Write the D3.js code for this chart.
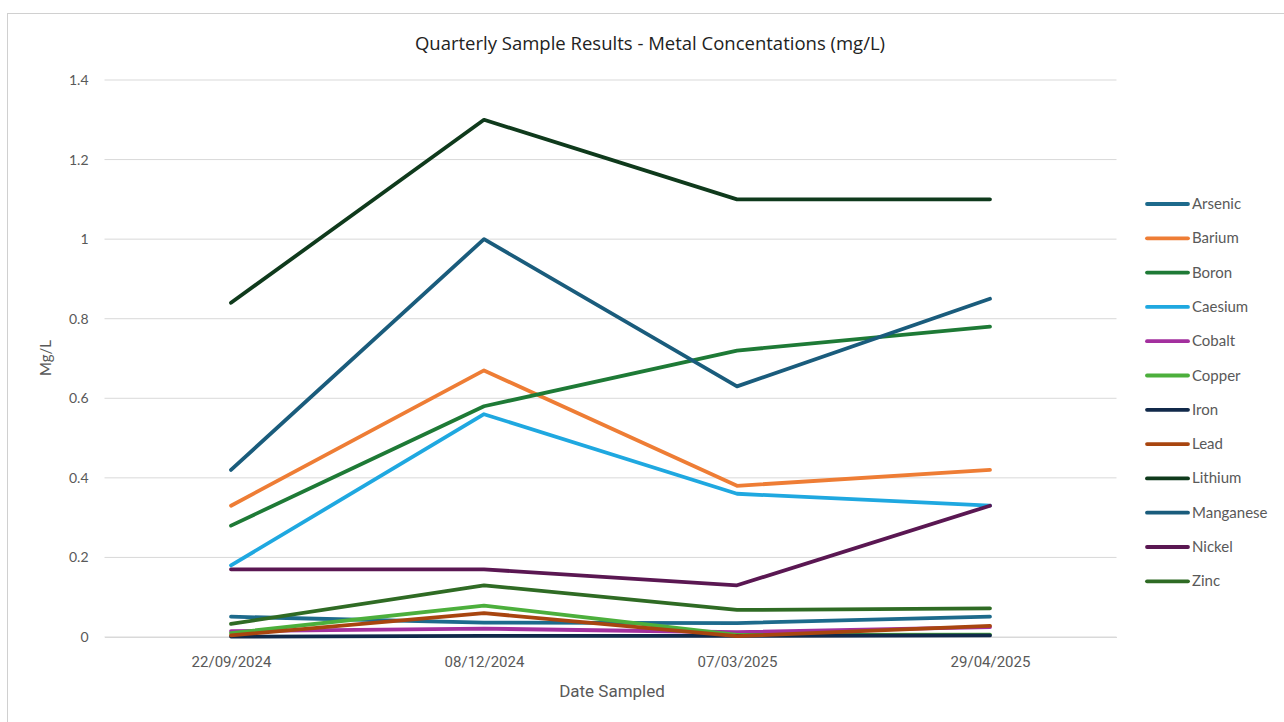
<!DOCTYPE html>
<html>
<head>
<meta charset="utf-8">
<script src="https://cdn.jsdelivr.net/npm/d3@7"></script>
<style>
  html, body { margin: 0; padding: 0; background: #ffffff; }
  svg { display: block; }
</style>
</head>
<body>
<div id="chart"></div>
<script>
const dates = ["22/09/2024", "08/12/2024", "07/03/2025", "29/04/2025"];
const metals = ["Arsenic", "Barium", "Boron", "Caesium", "Cobalt", "Copper", "Iron", "Lead", "Lithium", "Manganese", "Nickel", "Zinc"];
const colors = ["#1d6a8c", "#ee7d35", "#1e7a36", "#1fa8e0", "#a3309e", "#4caf3c", "#11294a", "#a8450f", "#0f3a1c", "#1a5c7c", "#5a1752", "#2f6b24"];
const arsenic   = [0.051, 0.036, 0.035, 0.051];
const barium    = [0.33, 0.67, 0.38, 0.42];
const boron     = [0.28, 0.58, 0.72, 0.78];
const caesium   = [0.18, 0.56, 0.36, 0.33];
const cobalt    = [0.015, 0.021, 0.012, 0.025];
const copper    = [0.01, 0.079, 0.005, 0.006];
const iron      = [0.001, 0.003, 0.003, 0.004];
const lead      = [0.004, 0.06, 0.002, 0.028];
const lithium   = [0.84, 1.3, 1.1, 1.1];
const manganese = [0.42, 1.0, 0.63, 0.85];
const nickel    = [0.17, 0.17, 0.13, 0.33];
const zinc      = [0.033, 0.13, 0.068, 0.072];
const yTicks = [0, 0.2, 0.4, 0.6, 0.8, 1, 1.2, 1.4];
const seriesValues = [arsenic, barium, boron, caesium, cobalt, copper, iron, lead, lithium, manganese, nickel, zinc];

const W = 1284, H = 722;
const margin = { left: 104.5, right: 1116.5, top: 80, bottom: 637 };

const svg = d3.select("#chart").append("svg").attr("width", W).attr("height", H);

svg.append("rect").attr("x", 7.5).attr("y", 13.5).attr("width", W + 10).attr("height", H + 10)
  .attr("fill", "#fff").attr("stroke", "#d0d0d0").attr("stroke-width", 1);

const x = d3.scalePoint().domain(dates).range([margin.left, margin.right]).padding(0.5);
const y = d3.scaleLinear().domain([0, 1.4]).range([margin.bottom, margin.top]);

// gridlines
svg.append("g").selectAll("line").data(yTicks).join("line")
  .attr("x1", margin.left).attr("x2", margin.right)
  .attr("y1", d => y(d)).attr("y2", d => y(d))
  .attr("stroke", "#d9d9d9").attr("stroke-width", 1);

// y axis
const yAxis = svg.append("g").attr("transform", `translate(${margin.left},0)`)
  .call(d3.axisLeft(y).tickValues(yTicks).tickSize(0).tickPadding(16).tickFormat(d => d3.format("")(d)));
yAxis.select(".domain").remove();
yAxis.selectAll("text").attr("fill", "#595959").style("font-family", "Lato, 'Open Sans', sans-serif").style("font-size", "14px");

// x axis
const xAxis = svg.append("g").attr("transform", `translate(0,${margin.bottom})`)
  .call(d3.axisBottom(x).tickSize(0).tickPadding(19));
xAxis.select(".domain").attr("stroke", "#d9d9d9");
xAxis.selectAll("text").attr("fill", "#595959").style("font-family", "'Liberation Sans Narrow', 'Roboto', sans-serif").style("font-size", "15px");

// lines
const line = d3.line().x((d, i) => x(dates[i])).y(d => y(d));
svg.append("g").selectAll("path").data(seriesValues).join("path")
  .attr("d", d => line(d))
  .attr("fill", "none")
  .attr("stroke", (d, i) => colors[i])
  .attr("stroke-width", 3.8)
  .attr("stroke-linejoin", "round")
  .attr("stroke-linecap", "round");

// title
svg.append("text").attr("x", 650).attr("y", 50).attr("text-anchor", "middle")
  .style("font-family", "'Open Sans', sans-serif").style("font-size", "18.5px").attr("fill", "#222")
  .text("Quarterly Sample Results - Metal Concentations (mg/L)");

// axis titles
svg.append("text").attr("x", 612).attr("y", 697).attr("text-anchor", "middle")
  .style("font-family", "'Liberation Sans Narrow', 'Roboto', sans-serif").style("font-size", "17px").attr("fill", "#595959")
  .text("Date Sampled");
svg.append("text").attr("transform", "translate(51,358) rotate(-90)").attr("text-anchor", "middle")
  .style("font-family", "Lato, sans-serif").style("font-size", "15px").attr("fill", "#595959")
  .text("Mg/L");

// legend
const legend = svg.append("g").selectAll("g").data(metals).join("g")
  .attr("transform", (d, i) => `translate(1147,${204 + i * 34.3})`);
legend.append("line").attr("x1", 0).attr("x2", 41).attr("y1", 0).attr("y2", 0)
  .attr("stroke", (d, i) => colors[i]).attr("stroke-width", 3.8).attr("stroke-linecap", "round");
legend.append("text").attr("x", 45).attr("y", 5)
  .style("font-family", "Lato, sans-serif").style("font-size", "15px").attr("fill", "#595959")
  .text(d => d);
</script>
</body>
</html>
